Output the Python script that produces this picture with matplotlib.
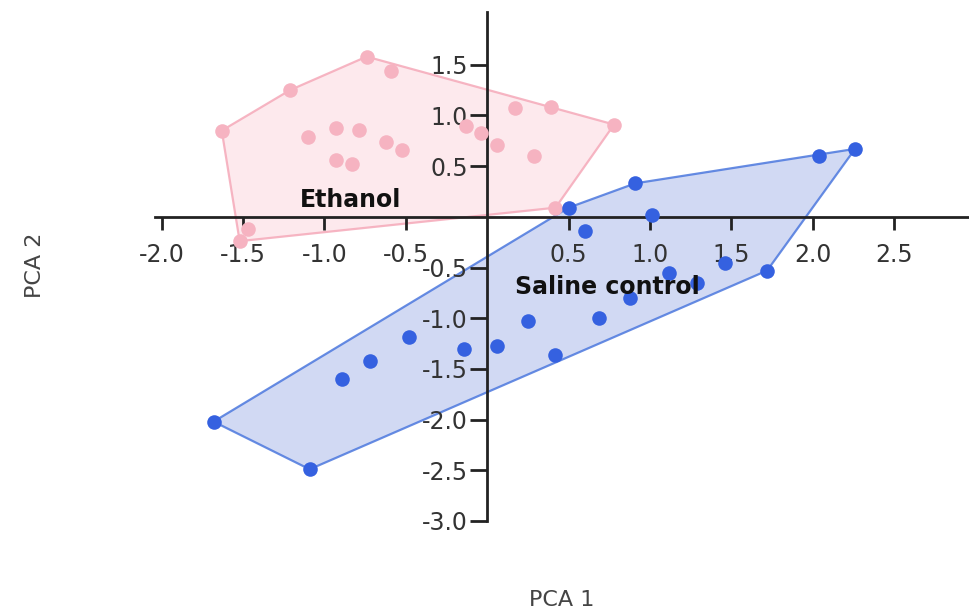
import numpy as np
import matplotlib.pyplot as plt
from matplotlib.patches import Polygon

# PCA scores
ethanol_x = [-1.63, -1.21, -0.74, -0.59, -1.10, -0.93, -0.79, -0.93, -0.83, -0.62, -0.52,
             -0.13, -0.04, 0.06, 0.17, 0.39, 0.78, 0.29, 0.42, -1.47, -1.52]
ethanol_y = [0.85, 1.25, 1.58, 1.44, 0.79, 0.88, 0.86, 0.56, 0.52, 0.74, 0.66,
             0.90, 0.83, 0.71, 1.07, 1.08, 0.91, 0.60, 0.09, -0.12, -0.24]

saline_x = [-1.68, -1.09, -0.89, -0.72, -0.48, -0.14, 0.06, 0.25, 0.42, 0.69, 0.88,
            1.12, 1.29, 1.46, 1.72, 2.04, 2.26, 0.91, 0.50, 1.01, 0.60]
saline_y = [-2.02, -2.49, -1.60, -1.42, -1.19, -1.30, -1.27, -1.03, -1.36, -1.00, -0.80,
            -0.55, -0.65, -0.46, -0.53, 0.60, 0.67, 0.33, 0.09, 0.02, -0.14]

xticks = [-2.0, -1.5, -1.0, -0.5, 0.5, 1.0, 1.5, 2.0, 2.5]
yticks = [-3.0, -2.5, -2.0, -1.5, -1.0, -0.5, 0.5, 1.0, 1.5]


def hull(xs, ys):
    # monotone chain convex hull
    pts = sorted(zip(xs, ys))
    def cross(o, a, b):
        return (a[0]-o[0])*(b[1]-o[1]) - (a[1]-o[1])*(b[0]-o[0])
    lower, upper = [], []
    for p in pts:
        while len(lower) >= 2 and cross(lower[-2], lower[-1], p) <= 0:
            lower.pop()
        lower.append(p)
    for p in reversed(pts):
        while len(upper) >= 2 and cross(upper[-2], upper[-1], p) <= 0:
            upper.pop()
        upper.append(p)
    return np.array(lower[:-1] + upper[:-1])


fig = plt.figure(figsize=(9.69, 6.14), dpi=100)
ax = fig.add_axes([155/969, 1-521/614, 1-155/969, (521-12)/614])
ax.set_xlim(-2.04, 2.96)
ax.set_ylim(-3.0, 2.02)

# groups: hull + points
pink_pt, pink_line, pink_fill = '#f6b3c1', '#f5a9b9', '#fde6ea'
blue_pt, blue_line, blue_fill = '#3561e0', '#4c78de', '#c9d3f2'

ax.add_patch(Polygon(hull(ethanol_x, ethanol_y), closed=True, facecolor=pink_fill,
                     edgecolor=pink_line, lw=1.6, alpha=0.85, zorder=1))
ax.add_patch(Polygon(hull(saline_x, saline_y), closed=True, facecolor=blue_fill,
                     edgecolor=blue_line, lw=1.6, alpha=0.85, zorder=1))
ax.scatter(ethanol_x, ethanol_y, s=110, color=pink_pt, zorder=4, linewidths=0)
ax.scatter(saline_x, saline_y, s=110, color=blue_pt, zorder=4, linewidths=0)

ax.text(-0.84, 0.17, 'Ethanol', fontsize=17, fontweight='bold', ha='center', va='center',
        family='DejaVu Sans', color='#111111', zorder=5)
ax.text(0.74, -0.69, 'Saline control', fontsize=17, fontweight='bold', ha='center',
        va='center', family='DejaVu Sans', color='#111111', zorder=5)

# axes crossing at the origin
for s in ['top', 'right']:
    ax.spines[s].set_visible(False)
ax.spines['left'].set_position(('data', 0))
ax.spines['bottom'].set_position(('data', 0))
for s in ['left', 'bottom']:
    ax.spines[s].set_linewidth(2)
    ax.spines[s].set_color('#222222')
    ax.spines[s].set_zorder(3)

ax.set_xticks(xticks)
ax.set_yticks(yticks)
ax.set_xticklabels(['%.1f' % v for v in xticks])
ax.set_yticklabels(['%.1f' % v for v in yticks])
ax.tick_params(axis='x', direction='out', length=9, width=2, pad=10, labelsize=17,
               color='#222222', labelcolor='#333333')
ax.tick_params(axis='y', direction='out', length=12, width=2, pad=2, labelsize=17,
               color='#222222', labelcolor='#333333')

fig.text(562/969, 1-600/614, 'PCA 1', fontsize=16, color='#444444', ha='center', va='center')
fig.text(35/969, 1-265/614, 'PCA 2', fontsize=16, color='#444444', ha='center', va='center',
         rotation=90)

fig.savefig('out.png', dpi=100)
